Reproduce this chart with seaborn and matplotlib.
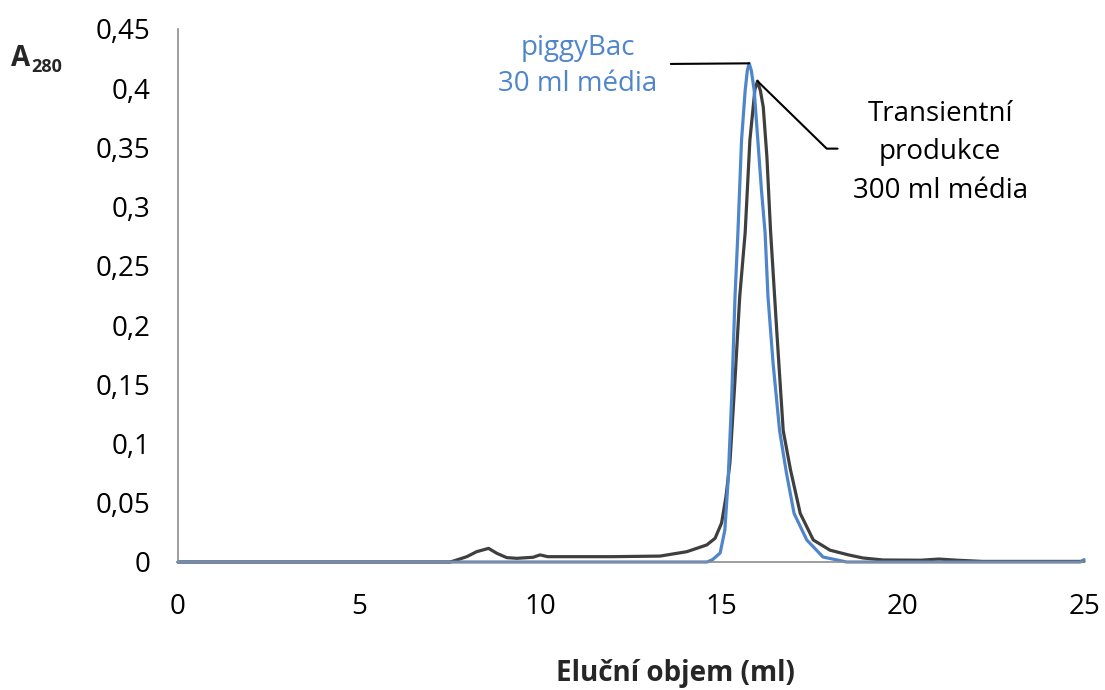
import numpy as np
import pandas as pd
import matplotlib
matplotlib.use("Agg")
import matplotlib.pyplot as plt
import seaborn as sns

# --- data ---
piggy_x = [0, 14.6, 14.75, 14.96, 15.09, 15.18, 15.28, 15.37, 15.45, 15.55, 15.65,
           15.71, 15.76, 15.82, 15.9, 16.0, 16.1, 16.2, 16.28, 16.42, 16.6, 16.79,
           17.0, 17.35, 17.8, 18.45, 24.9, 25]
piggy_y = [0, 0, 0.002, 0.0076, 0.027, 0.069, 0.14, 0.224, 0.278, 0.356, 0.398,
           0.415, 0.421, 0.415, 0.398, 0.356, 0.314, 0.278, 0.224, 0.168, 0.111,
           0.075, 0.041, 0.0186, 0.0042, 0, 0, 0.002]

trans_x = [0, 7.5, 7.6, 7.97, 8.24, 8.57, 8.8, 9.07, 9.35, 9.8, 9.99, 10.2, 10.5,
           12.0, 13.3, 14.04, 14.59, 14.82, 15.0, 15.12, 15.23, 15.37, 15.5, 15.65,
           15.78, 15.92, 15.99, 16.07, 16.15, 16.25, 16.35, 16.52, 16.7, 16.9,
           17.17, 17.53, 17.99, 18.5, 18.9, 19.45, 20.5, 21.0, 21.5, 22.2, 25]
trans_y = [0, 0, 0.0008, 0.0045, 0.0087, 0.0115, 0.0073, 0.0037, 0.0031, 0.004,
           0.006, 0.0045, 0.0045, 0.0045, 0.005, 0.0087, 0.0144, 0.020, 0.033,
           0.055, 0.084, 0.154, 0.224, 0.278, 0.356, 0.399, 0.406, 0.398, 0.384,
           0.342, 0.28, 0.196, 0.111, 0.078, 0.041, 0.0186, 0.010, 0.006, 0.0034,
           0.0017, 0.0015, 0.0025, 0.0015, 0.0005, 0.0005]

x_ticks = [0, 5, 10, 15, 20, 25]
y_ticks = [0, 0.05, 0.1, 0.15, 0.2, 0.25, 0.3, 0.35, 0.4, 0.45]
y_tick_labels = ["0", "0,05", "0,1", "0,15", "0,2", "0,25", "0,3", "0,35", "0,4", "0,45"]

label_piggy = "piggyBac\n30 ml média"
label_trans = "Transientní\nprodukce\n300 ml média"
x_label = "Eluční objem (ml)"

BLUE = "#4F86CB"
DARK = "#3F3F3F"
GRAY = "#8C8C8C"
FS = 20

sns.set_theme(style="white")
plt.rcParams["font.family"] = ["Open Sans", "DejaVu Sans"]

df = pd.concat([
    pd.DataFrame({"x": trans_x, "y": trans_y, "s": "trans"}),
    pd.DataFrame({"x": piggy_x, "y": piggy_y, "s": "piggy"}),
])

fig = plt.figure(figsize=(11.05, 6.9), dpi=100)
ax = fig.add_axes([178 / 1105, 1 - 562 / 690, (1084 - 178) / 1105, (562 - 29) / 690])

sns.lineplot(data=df, x="x", y="y", hue="s", hue_order=["trans", "piggy"],
             palette={"trans": DARK, "piggy": BLUE}, linewidth=2.3,
             sort=False, estimator=None, legend=False, ax=ax)
for ln in ax.lines:
    ln.set_clip_on(False)
    ln.set_solid_joinstyle("round")

ax.set_xlim(0, 25)
ax.set_ylim(0, 0.45)
ax.set_xticks(x_ticks)
ax.set_xticklabels([str(t) for t in x_ticks])
ax.set_yticks(y_ticks)
ax.set_yticklabels(y_tick_labels)
ax.set_xlabel("")
ax.set_ylabel("")

for side in ["top", "right"]:
    ax.spines[side].set_visible(False)
for side in ["left", "bottom"]:
    ax.spines[side].set_color(GRAY)
    ax.spines[side].set_linewidth(1.2)

ax.tick_params(axis="both", which="major", direction="out", length=7, width=1.2,
               color=GRAY, labelsize=FS, labelcolor="#000000")
ax.tick_params(axis="y", pad=13)
ax.tick_params(axis="x", pad=15)

# peak annotations with leader lines
pk_p = int(np.argmax(piggy_y))
pk_t = int(np.argmax(trans_y))
ax.plot([13.6, piggy_x[pk_p]], [0.4205, piggy_y[pk_p]], color="#000000", lw=1.5,
        clip_on=False, zorder=5)
ax.plot([trans_x[pk_t], 17.9, 18.2], [trans_y[pk_t], 0.349, 0.349],
        color="#000000", lw=1.5, clip_on=False, zorder=5)

ax.text(11.03, 0.4186, label_piggy, color=BLUE, fontsize=FS, ha="center",
        va="center", linespacing=1.38)
ax.text(21.03, 0.346, label_trans, color="#000000", fontsize=FS, ha="center",
        va="center", linespacing=1.5)

fig.text(675 / 1105, 1 - 673 / 690, x_label, fontsize=FS, fontweight="bold",
         ha="center", va="center")
fig.text(11 / 1105, 1 - 66 / 690, "A", fontsize=FS, fontweight="bold",
         ha="left", va="baseline")
fig.text(31 / 1105, 1 - 72 / 690, "280", fontsize=13, fontweight="bold",
         ha="left", va="baseline")

fig.savefig("out.png", dpi=100, facecolor="white")
